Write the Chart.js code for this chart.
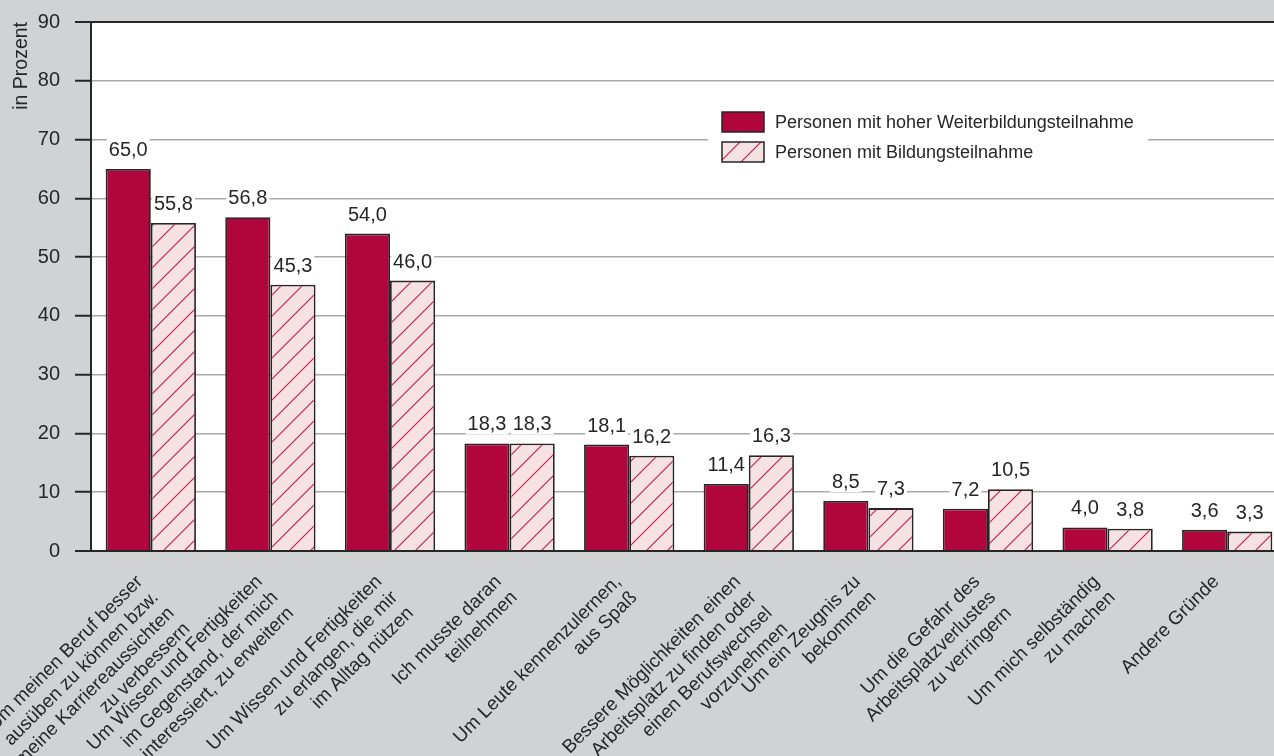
<!DOCTYPE html>
<html>
<head>
<meta charset="utf-8">
<script src="https://cdn.jsdelivr.net/npm/chart.js@4.4.0/dist/chart.umd.min.js"></script>
<style>
    html, body { margin: 0; padding: 0; background: #d1d2d4; overflow: hidden; }
    #wrap { width: 1274px; height: 756px; overflow: hidden; }
    canvas { display: block; }
</style>
</head>
<body>
<div id="wrap"><canvas id="chart" width="1287" height="756"></canvas></div>
<script>
// ── Data ─────────────────────────────────────────────────────────────────────
const categories = [
    ['Um meinen Beruf besser', 'ausüben zu können bzw.', 'meine Karriereaussichten', 'zu verbessern'],
    ['Um Wissen und Fertigkeiten', 'im Gegenstand, der mich', 'interessiert, zu erweitern'],
    ['Um Wissen und Fertigkeiten', 'zu erlangen, die mir', 'im Alltag nützen'],
    ['Ich musste daran', 'teilnehmen'],
    ['Um Leute kennenzulernen,', 'aus Spaß'],
    ['Bessere Möglichkeiten einen', 'Arbeitsplatz zu finden oder', 'einen Berufswechsel', 'vorzunehmen'],
    ['Um ein Zeugnis zu', 'bekommen'],
    ['Um die Gefahr des', 'Arbeitsplatzverlustes', 'zu verringern'],
    ['Um mich selbständig', 'zu machen'],
    ['Andere Gründe']
];
const hoheTeilnahme     = [65.0, 56.8, 54.0, 18.3, 18.1, 11.4, 8.5, 7.2, 4.0, 3.6];
const bildungsTeilnahme = [55.8, 45.3, 46.0, 18.3, 16.2, 16.3, 7.3, 10.5, 3.8, 3.3];
const seriesLabels = ['Personen mit hoher Weiterbildungsteilnahme', 'Personen mit Bildungsteilnahme'];
const yMin = 0, yMax = 90, yStep = 10;
const yTitle = 'in Prozent';

// ── Colours ──────────────────────────────────────────────────────────────────
const CRIMSON = '#b0063d';
const PINK    = '#f6e1e3';
const DARK    = '#262626';
const GRID    = '#a9a9a9';
const BG      = '#d1d2d4';

Chart.defaults.font.family = "'Liberation Sans', Arial, Helvetica, sans-serif";
Chart.defaults.color = DARK;

// Diagonal hatch for the second series
function makeHatch() {
    const s = 21;
    const p = document.createElement('canvas');
    p.width = s; p.height = s;
    const g = p.getContext('2d');
    g.fillStyle = PINK;
    g.fillRect(0, 0, s, s);
    g.strokeStyle = '#c41a50';
    g.lineWidth = 1.1;
    g.beginPath();
    g.moveTo(0, s); g.lineTo(s, 0);
    g.moveTo(-2, 2); g.lineTo(2, -2);
    g.moveTo(s - 2, s + 2); g.lineTo(s + 2, s - 2);
    g.stroke();
    return g.createPattern(p, 'repeat');
}
const hatch = makeHatch();

const fmt = v => v.toFixed(1).replace('.', ',');

// ── Plugins ──────────────────────────────────────────────────────────────────
const backgroundPlugin = {
    id: 'bg',
    beforeDraw(chart) {
        const { ctx, chartArea: a } = chart;
        ctx.save();
        ctx.fillStyle = BG;
        ctx.fillRect(0, 0, chart.width, chart.height);
        ctx.fillStyle = '#fff';
        ctx.fillRect(a.left, a.top, a.right - a.left, a.bottom - a.top);
        ctx.restore();
    }
};

const valueLabelPlugin = {
    id: 'valueLabels',
    afterDatasetsDraw(chart) {
        const ctx = chart.ctx;
        ctx.save();
        ctx.font = "20px 'Liberation Sans', Arial, sans-serif";
        ctx.textAlign = 'center';
        ctx.textBaseline = 'alphabetic';
        chart.data.datasets.forEach((ds, di) => {
            chart.getDatasetMeta(di).data.forEach((bar, i) => {
                const txt = fmt(ds.data[i]);
                const w = ctx.measureText(txt).width;
                const base = bar.y - 13;
                ctx.fillStyle = '#fff';
                ctx.fillRect(bar.x - w / 2 - 2, base - 17, w + 4, 21);
                ctx.fillStyle = DARK;
                ctx.fillText(txt, bar.x, base);
            });
        });
        ctx.restore();
    }
};

const legendPlugin = {
    id: 'boxLegend',
    afterDatasetsDraw(chart) {
        const ctx = chart.ctx;
        ctx.save();
        ctx.fillStyle = '#fff';
        ctx.fillRect(708, 100, 440, 72);
        ctx.font = "18px 'Liberation Sans', Arial, sans-serif";
        ctx.textBaseline = 'middle';
        chart.data.datasets.forEach((ds, i) => {
            const y = 112 + i * 30;
            ctx.fillStyle = ds.backgroundColor;
            ctx.fillRect(722, y, 42, 20);
            ctx.strokeStyle = DARK;
            ctx.lineWidth = 1.5;
            ctx.strokeRect(722, y, 42, 20);
            ctx.fillStyle = DARK;
            ctx.fillText(ds.label, 775, y + 11);
        });
        ctx.restore();
    }
};

// ── Chart ────────────────────────────────────────────────────────────────────
new Chart(document.getElementById('chart'), {
    type: 'bar',
    data: {
        labels: categories,
        datasets: [
            {
                label: seriesLabels[0],
                data: hoheTeilnahme,
                backgroundColor: CRIMSON,
                borderColor: DARK,
                borderWidth: 1.8,
                categoryPercentage: 0.755,
                barPercentage: 1
            },
            {
                label: seriesLabels[1],
                data: bildungsTeilnahme,
                backgroundColor: hatch,
                borderColor: DARK,
                borderWidth: 1.8,
                categoryPercentage: 0.755,
                barPercentage: 1
            }
        ]
    },
    options: {
        responsive: false,
        animation: false,
        layout: { padding: { top: 22, left: 0, right: 0, bottom: 0 } },
        plugins: {
            legend: { display: false },
            tooltip: { enabled: false }
        },
        scales: {
            x: {
                grid: { display: false },
                border: { color: DARK, width: 2 },
                ticks: {
                    autoSkip: false,
                    minRotation: 45,
                    maxRotation: 45,
                    color: DARK,
                    padding: 12,
                    labelOffset: -11,
                    font: { size: 19, lineHeight: 1.17 }
                },
                afterFit(scale) {
                    scale.height = 205;
                    scale.paddingLeft = 0;
                    scale.paddingRight = 0;
                }
            },
            y: {
                min: yMin,
                max: yMax,
                ticks: {
                    stepSize: yStep,
                    color: DARK,
                    padding: 15,
                    font: { size: 20 }
                },
                grid: {
                    color: c => (c.tick && (c.tick.value === yMax || c.tick.value === yMin)) ? DARK : GRID,
                    lineWidth: c => (c.tick && (c.tick.value === yMax || c.tick.value === yMin)) ? 2 : 1.5,
                    tickLength: 16,
                    tickColor: DARK,
                    tickWidth: 2
                },
                border: { color: DARK, width: 2 },
                title: {
                    display: true,
                    text: yTitle,
                    align: 'end',
                    color: DARK,
                    font: { size: 19.5 },
                    padding: { top: 10, bottom: 0 }
                },
                afterFit(scale) {
                    scale.width = 91;
                    scale.paddingTop = 0;
                    scale.paddingBottom = 0;
                }
            }
        }
    },
    plugins: [backgroundPlugin, valueLabelPlugin, legendPlugin]
});
</script>
</body>
</html>
